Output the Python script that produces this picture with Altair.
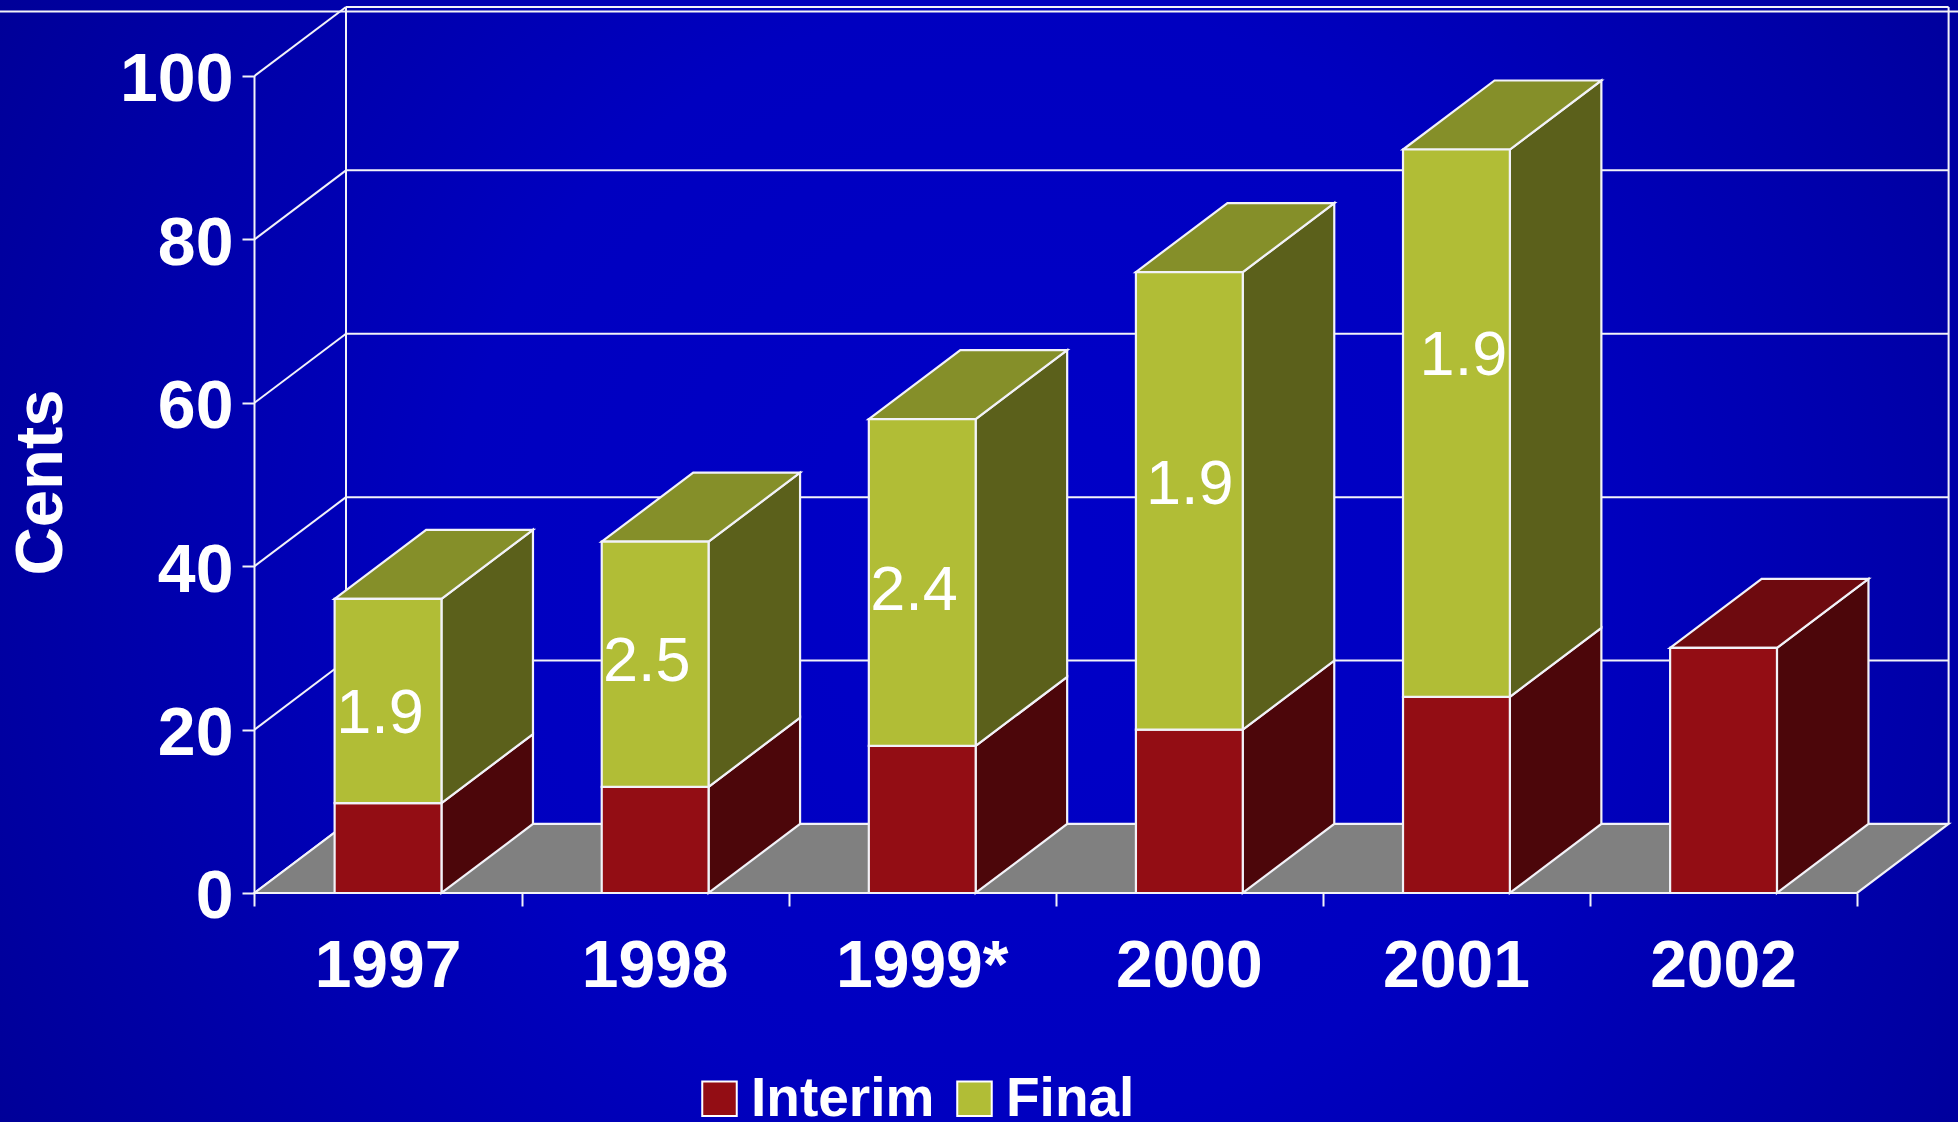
import altair as alt
import pandas as pd

years = ["1997", "1998", "1999*", "2000", "2001", "2002"]
interim = [11, 13, 18, 20, 24, 30]
final = [25, 30, 40, 56, 67, 0]
ratio_labels = ["1.9", "2.5", "2.4", "1.9", "1.9"]
ratio_x = [0.47, 1.469, 2.469, 3.502, 4.526]
ratio_y = [21.9, 28.3, 37.0, 49.9, 65.7]
y_ticks = [0, 20, 40, 60, 80, 100]
x_ticks = [0, 1, 2, 3, 4, 5, 6]

# Chart geometry in data units: oblique depth and bar placement inside a category
DEPTH_X, DEPTH_Y = 0.3426, 8.45
BAR_START, BAR_WIDTH = 0.3, 0.4
X_MIN, X_MAX = -0.9528, 6.3778
Y_MIN, Y_MAX = -28.03, 109.3
BANNER_Y = 107.9
FONT = "Liberation Sans"

RED, RED_SIDE, RED_TOP = "#930D14", "#4C060A", "#6E0A0F"
OLIVE, OLIVE_SIDE, OLIVE_TOP = "#B1BD36", "#5B601B", "#858F29"
WHITE = "#FFFFFF"
LINE = "#F2F2F8"

x_scale = alt.Scale(domain=[X_MIN, X_MAX], nice=False, zero=False)
y_scale = alt.Scale(domain=[Y_MIN, Y_MAX], nice=False, zero=False)

# Every layer shares these axes so that the merged chart keeps them
x_axis = alt.Axis(
    values=x_ticks, labels=False, domain=False, grid=False, title=None,
    offset=-229, tickSize=13, tickWidth=2, tickColor=LINE, zindex=1,
)
y_axis = alt.Axis(
    values=y_ticks, domain=False, grid=False, title="Cents",
    offset=-254.5, tickSize=12.5, tickWidth=2, tickColor=LINE, zindex=1,
    labelFont=FONT, labelFontSize=68, labelFontWeight="bold", labelColor=WHITE,
    labelPadding=9, labelBaseline="middle", labelOffset=5,
    titleFont=FONT, titleFontSize=67, titleFontWeight="bold", titleColor=WHITE,
    titleAngle=270, titleX=-213, titleY=482, titleAnchor="middle",
    titleBaseline="middle", titleAlign="center",
)
X = lambda f="x": alt.X(f"{f}:Q", scale=x_scale, axis=x_axis)
Y = lambda f="y": alt.Y(f"{f}:Q", scale=y_scale, axis=y_axis)


def side_face(key, left, low, high, shade):
    return [
        dict(id=key, x=left, y=low, y2=high, shade=shade),
        dict(id=key, x=left + DEPTH_X, y=low + DEPTH_Y, y2=high + DEPTH_Y, shade=shade),
    ]


def flat_face(key, left, right, level, shade):
    return [
        dict(id=key, x=left, y=level, y2=level, shade=shade),
        dict(id=key, x=left + DEPTH_X, y=level, y2=level + DEPTH_Y, shade=shade),
        dict(id=key, x=right, y=level, y2=level + DEPTH_Y, shade=shade),
        dict(id=key, x=right + DEPTH_X, y=level + DEPTH_Y, y2=level + DEPTH_Y, shade=shade),
    ]


# Faces of each block: one front rectangle, plus sloping sides and caps
fronts, faces = [], []
for i, (low, top) in enumerate(zip(interim, final)):
    left = i + BAR_START
    right = left + BAR_WIDTH
    total = low + top
    fronts.append(dict(x=left, x2=right, y=0, y2=low, series="Interim"))
    faces += side_face(f"{i}-red", right, 0, low, RED_SIDE)
    if top:
        fronts.append(dict(x=left, x2=right, y=low, y2=total, series="Final"))
        faces += side_face(f"{i}-olive", right, low, total, OLIVE_SIDE)
        faces += flat_face(f"{i}-cap", left, right, total, OLIVE_TOP)
    else:
        faces += flat_face(f"{i}-cap", left, right, low, RED_TOP)

floor = flat_face("floor", 0, 6, 0, "#808080")

# Gridlines on the back wall and the connectors that run to the front axis
wall = []
for v in y_ticks:
    wall.append(dict(x=0, x2=DEPTH_X, y=v, y2=v + DEPTH_Y))
    wall.append(dict(x=DEPTH_X, x2=6 + DEPTH_X, y=v + DEPTH_Y, y2=v + DEPTH_Y))
wall.append(dict(x=0, x2=0, y=0, y2=100))
wall.append(dict(x=DEPTH_X, x2=DEPTH_X, y=DEPTH_Y, y2=100 + DEPTH_Y))
wall.append(dict(x=6 + DEPTH_X, x2=6 + DEPTH_X, y=DEPTH_Y, y2=100 + DEPTH_Y))
wall.append(dict(x=X_MIN, x2=X_MAX, y=BANNER_Y, y2=BANNER_Y))

backdrop = alt.Chart(pd.DataFrame([dict(x=X_MIN, x2=X_MAX, y=Y_MIN, y2=Y_MAX)])).mark_rect(
    fill=alt.RadialGradient(
        gradient="radial",
        x1=0.52, y1=0.5, r1=0.0,
        x2=0.52, y2=0.5, r2=0.72,
        stops=[
            alt.GradientStop(color="#0000C8", offset=0),
            alt.GradientStop(color="#0000C0", offset=0.4),
            alt.GradientStop(color="#000088", offset=1),
        ],
    )
).encode(x=X(), x2="x2:Q", y=Y(), y2="y2:Q")

grid = alt.Chart(pd.DataFrame(wall)).mark_rule(color=LINE, strokeWidth=2).encode(
    x=X(), x2="x2:Q", y=Y(), y2="y2:Q"
)

floor_layer = alt.Chart(pd.DataFrame(floor)).mark_area(
    orient="vertical", stroke=LINE, strokeWidth=2.2
).encode(
    x=X(), y=Y(), y2="y2:Q", detail="id:N", fill=alt.Fill("shade:N", scale=None)
)

face_layer = alt.Chart(pd.DataFrame(faces)).mark_area(
    orient="vertical", stroke=LINE, strokeWidth=2.2
).encode(
    x=X(), y=Y(), y2="y2:Q", detail="id:N", fill=alt.Fill("shade:N", scale=None)
)

front_layer = alt.Chart(pd.DataFrame(fronts)).mark_rect(stroke=LINE, strokeWidth=2.2).encode(
    x=X(), x2="x2:Q", y=Y(), y2="y2:Q",
    color=alt.Color(
        "series:N",
        scale=alt.Scale(domain=["Interim", "Final"], range=[RED, OLIVE]),
        legend=alt.Legend(
            orient="none", legendX=692, legendY=1071, direction="horizontal", title=None,
            symbolType="square", symbolSize=1190, symbolStrokeColor=WHITE,
            symbolStrokeWidth=2, symbolOpacity=1,
            labelFont=FONT, labelFontSize=55, labelFontWeight="bold", labelColor=WHITE,
            labelLimit=400, labelOffset=4, columnPadding=12, padding=0,
        ),
    ),
)

year_layer = alt.Chart(
    pd.DataFrame({"x": [i + 0.5 for i in range(len(years))], "y": [-9] * len(years), "label": years})
).mark_text(
    font=FONT, fontSize=66, fontWeight="bold", color=WHITE, baseline="middle", align="center"
).encode(x=X(), y=Y(), text="label:N")

ratio_layer = alt.Chart(
    pd.DataFrame({"x": ratio_x, "y": ratio_y, "label": ratio_labels})
).mark_text(
    font=FONT, fontSize=63, color=WHITE, baseline="middle", align="center"
).encode(x=X(), y=Y(), text="label:N")

chart = alt.layer(
    backdrop, grid, floor_layer, face_layer, front_layer, year_layer, ratio_layer
).properties(
    width=1958, height=1122, padding=0,
    autosize=alt.AutoSizeParams(type="none"),
).configure_view(stroke=None)

chart.save("out.html", embed_options={"renderer": "svg", "actions": False})
